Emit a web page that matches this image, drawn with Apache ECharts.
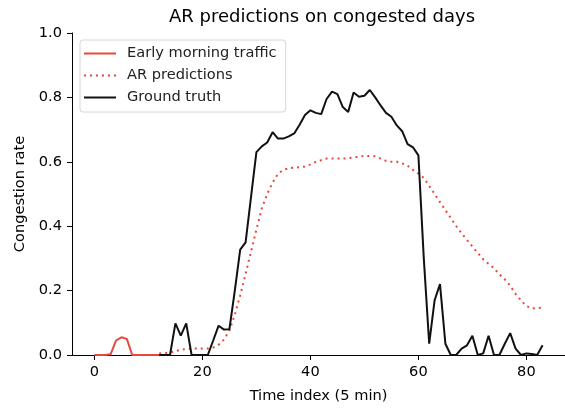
<!DOCTYPE html>
<html>
<head>
<meta charset="utf-8">
<script src="https://cdn.jsdelivr.net/npm/echarts@6/dist/echarts.min.js"></script>
<style>
html, body { margin: 0; padding: 0; background: #fff; }
#chart { width: 565px; height: 409px; }
</style>
</head>
<body>
<div id="chart"></div>
<script>
// ---- Data ----
const titleText = 'AR predictions on congested days';
const xAxisName = 'Time index (5 min)';
const yAxisName = 'Congestion rate';
const xTicks = [0, 20, 40, 60, 80];
const seriesNames = ['Early morning traffic', 'AR predictions', 'Ground truth'];

// Early morning traffic, starting at time index 0
const earlyStart = 0;
const earlyValues = [0, 0, 0, 0.002, 0.045, 0.055, 0.05, 0, 0, 0, 0, 0, 0];

// AR predictions, starting at time index 12
const predStart = 12;
const predValues = [
  0.005, 0.006, 0.008, 0.012, 0.016, 0.019, 0.02, 0.02, 0.02, 0.02,
  0.023, 0.032, 0.048, 0.076, 0.125, 0.185, 0.252, 0.32, 0.39, 0.455,
  0.5, 0.535, 0.563, 0.575, 0.58, 0.582, 0.583, 0.585, 0.592, 0.6,
  0.605, 0.61, 0.61, 0.61, 0.61, 0.611, 0.613, 0.616, 0.618, 0.618,
  0.617, 0.61, 0.603, 0.6, 0.6, 0.595, 0.588, 0.575, 0.563, 0.55,
  0.525, 0.5, 0.475, 0.45, 0.425, 0.4, 0.378, 0.357, 0.337, 0.317,
  0.297, 0.283, 0.27, 0.25, 0.235, 0.215, 0.19, 0.17, 0.152, 0.145,
  0.146, 0.147
];

// Ground truth, starting at time index 12
const truthStart = 12;
const truthValues = [
  0, 0, 0, 0.098, 0.06, 0.098, 0, 0, 0, 0,
  0.045, 0.091, 0.079, 0.08, 0.2, 0.327, 0.35, 0.49, 0.63, 0.648,
  0.66, 0.692, 0.672, 0.672, 0.679, 0.688, 0.715, 0.745, 0.76, 0.752,
  0.748, 0.795, 0.818, 0.81, 0.77, 0.755, 0.815, 0.802, 0.805, 0.823,
  0.8, 0.775, 0.752, 0.74, 0.713, 0.695, 0.655, 0.645, 0.62, 0.3,
  0.035, 0.17, 0.22, 0.035, 0, 0, 0.02, 0.03, 0.06, 0,
  0.005, 0.06, 0, 0, 0.035, 0.068, 0.02, 0, 0.005, 0.003,
  0, 0.03
];

function toPairs(start, values) {
  return values.map((v, i) => [start + i, v]);
}

const RED = '#e8483b';
const DARK = '#111111';
const FONT = 'DejaVu Sans';
const FS = 14.6;

const chart = echarts.init(document.getElementById('chart'), null, { renderer: 'canvas' });

const option = {
  animation: false,
  backgroundColor: '#ffffff',
  textStyle: { fontFamily: FONT },
  grid: { left: 72, top: 33, width: 500, height: 325, containLabel: false },
  graphic: [{
    type: 'text',
    x: 322,
    y: 17,
    style: {
      text: titleText,
      fontFamily: FONT,
      fontSize: 18,
      fill: '#000',
      textAlign: 'center',
      textVerticalAlign: 'middle'
    }
  }],
  legend: {
    orient: 'vertical',
    left: 80,
    top: 40,
    padding: [6, 9, 7, 3],
    itemWidth: 32,
    itemHeight: 14,
    itemGap: 7,
    backgroundColor: 'rgba(255,255,255,0.85)',
    borderColor: '#d6d6d6',
    borderWidth: 1,
    borderRadius: 3,
    itemStyle: { opacity: 0 },
    textStyle: { fontFamily: FONT, fontSize: FS, color: '#222', padding: [0, 0, 0, 6], lineHeight: 15 },
    data: seriesNames
  },
  xAxis: {
    type: 'value',
    min: -4.15,
    max: 87.15,
    name: xAxisName,
    nameLocation: 'middle',
    nameGap: 34,
    nameTextStyle: { fontFamily: FONT, fontSize: FS, color: '#000' },
    axisLine: { show: true, onZero: false, lineStyle: { color: '#000', width: 1 } },
    axisTick: { show: true, length: 5, inside: false, customValues: xTicks, lineStyle: { color: '#000' } },
    axisLabel: { customValues: xTicks, margin: 10, fontFamily: FONT, fontSize: FS, color: '#000' },
    splitLine: { show: false }
  },
  yAxis: {
    type: 'value',
    min: 0,
    max: 1,
    interval: 0.2,
    name: yAxisName,
    nameLocation: 'middle',
    nameGap: 43,
    nameTextStyle: { fontFamily: FONT, fontSize: FS, color: '#000' },
    axisLine: { show: true, onZero: false, lineStyle: { color: '#000', width: 1 } },
    axisTick: { show: true, length: 5, inside: false, lineStyle: { color: '#000' } },
    axisLabel: { margin: 10, fontFamily: FONT, fontSize: FS, color: '#000', formatter: v => v.toFixed(1) },
    splitLine: { show: false }
  },
  series: [
    {
      name: seriesNames[0],
      type: 'line',
      data: toPairs(earlyStart, earlyValues),
      symbol: 'none',
      lineStyle: { color: RED, width: 2 },
      itemStyle: { color: RED },
      z: 2
    },
    {
      name: seriesNames[1],
      type: 'line',
      data: toPairs(predStart, predValues),
      symbol: 'none',
      lineStyle: { color: RED, width: 2, type: [2, 4], cap: 'butt' },
      itemStyle: { color: RED },
      z: 3
    },
    {
      name: seriesNames[2],
      type: 'line',
      data: toPairs(truthStart, truthValues),
      symbol: 'none',
      lineStyle: { color: DARK, width: 2 },
      itemStyle: { color: DARK },
      z: 4
    }
  ]
};

chart.setOption(option);
</script>
</body>
</html>
